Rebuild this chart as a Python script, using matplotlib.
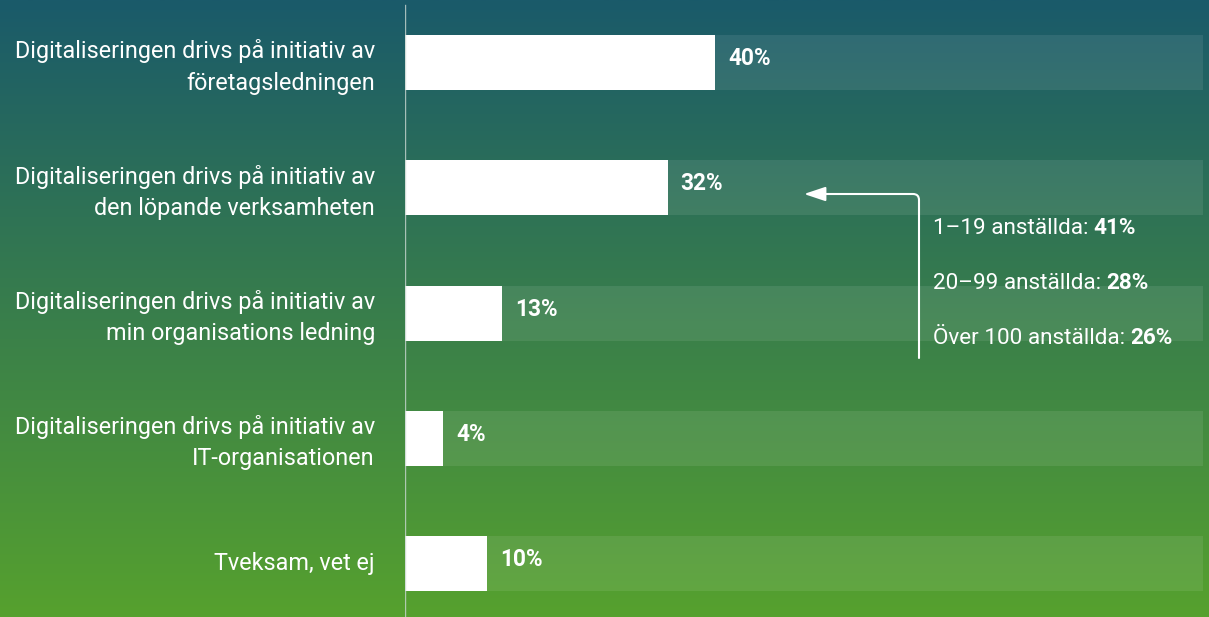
"""Horizontal bar chart: who drives digitalisation."""
import matplotlib

matplotlib.use("Agg")
import matplotlib.pyplot as plt
import matplotlib.transforms as mtransforms
import numpy as np
from matplotlib.colors import LinearSegmentedColormap

plt.rcParams["font.family"] = ["Roboto", "DejaVu Sans"]

categories = [
    "Digitaliseringen drivs på initiativ av\nföretagsledningen",
    "Digitaliseringen drivs på initiativ av\nden löpande verksamheten",
    "Digitaliseringen drivs på initiativ av\nmin organisations ledning",
    "Digitaliseringen drivs på initiativ av\nIT-organisationen",
    "Tveksam, vet ej",
]
values = [38.9, 32.9, 12.2, 4.8, 10.3]
value_labels = ["40%", "32%", "13%", "4%", "10%"]

size_groups = ["1–19 anställda:", "20–99 anställda:", "Över 100 anställda:"]
size_values = ["41%", "28%", "26%"]

TOP = "#1a5a6a"
BOTTOM = "#56a12e"
W, H = 1209, 617

fig = plt.figure(figsize=(W / 100, H / 100), dpi=100)

# gradient background
bg = fig.add_axes([0, 0, 1, 1], zorder=-1)
cmap = LinearSegmentedColormap.from_list("bg", [TOP, BOTTOM])
bg.imshow(np.linspace(0, 1, 256).reshape(-1, 1), aspect="auto", cmap=cmap,
          extent=[0, 1, 0, 1])
bg.axis("off")

ax = fig.add_axes([405 / W, 0, (1203 - 405) / W, 1])
ax.set_facecolor("none")
pos = np.arange(len(categories))
pitch = 125.25
ax.set_xlim(0, 100)
ax.set_ylim((H - 62.5) / pitch, -62.5 / pitch)
bar_h = 55 / pitch

ax.barh(pos, [100] * len(pos), height=bar_h, color="white", alpha=0.085, lw=0)
ax.barh(pos, values, height=bar_h, color="white", lw=0)

for p, v, lab in zip(pos, values, value_labels):
    ax.text(v + 1.6, p - 0.03, lab, ha="left", va="center", color="white",
            fontsize=16.3, fontweight="bold")

ax.set_yticks(pos, categories)
ax.tick_params(axis="y", length=0, pad=21.6, labelsize=16.8, labelcolor="white")
shift = mtransforms.ScaledTranslation(0, 1.5 / 72, fig.dpi_scale_trans)
for t in ax.get_yticklabels():
    t.set_linespacing(1.45)
    t.set_transform(t.get_transform() + shift)
ax.set_xticks([])
for s in ax.spines.values():
    s.set_visible(False)
ax.axvline(0, ymin=0, ymax=1 - 5 / H, color="#c8d6d0", lw=1.0, alpha=0.8)

# callout arrow for size breakdown
x_line = (919 - 405) / 7.98
ax.annotate("", xy=(50.0, (194 - 62.5) / pitch),
            xytext=(x_line, (358 - 62.5) / pitch),
            arrowprops=dict(arrowstyle="-|>,head_length=0.93,head_width=0.31",
                            mutation_scale=14, color="white", lw=1.5,
                            connectionstyle="angle,angleA=90,angleB=0,rad=6",
                            shrinkA=0, shrinkB=0))

x_txt = (933 - 405) / 7.98
for i, (g, v) in enumerate(zip(size_groups, size_values)):
    y = (228 + i * 55 - 62.5) / pitch
    t = ax.text(x_txt, y, g, ha="left", va="center", color="white", fontsize=16.2)
    ax.annotate(v, xy=(1, 0), xycoords=t, xytext=(3.5, 0), textcoords="offset points",
                ha="left", va="bottom", color="white", fontsize=16.2, fontweight="bold")

fig.savefig("out.png", dpi=100)
